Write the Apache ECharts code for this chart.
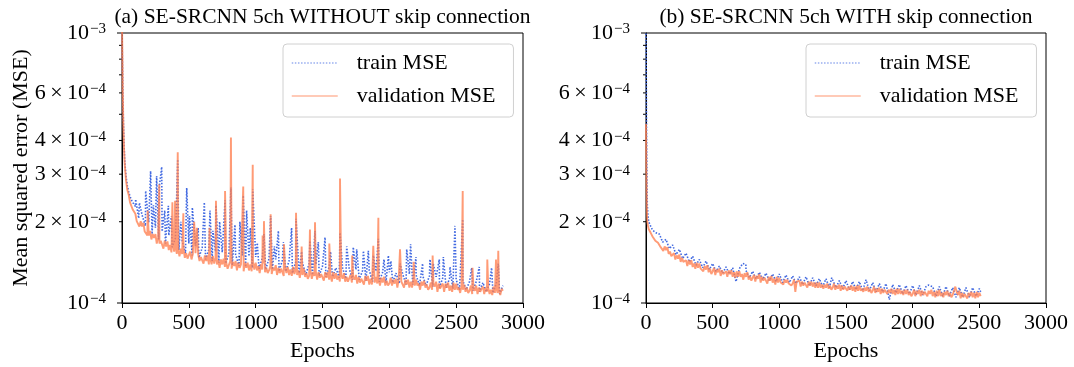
<!DOCTYPE html>
<html>
<head>
<meta charset="utf-8">
<script src="https://cdn.jsdelivr.net/npm/echarts@6/dist/echarts.min.js"></script>
<style>
html,body{margin:0;padding:0;background:#fff;}
#chart{width:1074px;height:367px;}
</style>
</head>
<body>
<div id="chart"></div>
<script>
// ---------- DATA (MSE values in units of 1e-4) ----------
const titles = ['(a) SE-SRCNN 5ch WITHOUT skip connection', '(b) SE-SRCNN 5ch WITH skip connection'];
const seriesNames = ['train MSE', 'validation MSE'];
const xTicks = [0, 500, 1000, 1500, 2000, 2500, 3000];
const yTickMinor = [2, 3, 4, 5, 6, 7, 8, 9];
const yLabelled = [1, 2, 3, 4, 6, 10];

function range(a, b, s) { const r = []; for (let e = a; e <= b; e += s) r.push(e); return r; }

// ===== (a) WITHOUT skip connection =====
const trainEpochsA = [0,3,6,10,15,20,25,30,40,50,60,75].concat(range(100, 2850, 25));
const trainA = [10.8,8.0,6.2,4.8,3.9,3.4,3.15,2.95,2.72,2.58,2.48,2.38,
2.28,2.06,2.12,1.93,1.99,1.80,1.90,1.72,1.84,1.66,1.78,1.61,1.74,1.57,1.70,1.53,
1.66,1.50,1.63,1.47,1.60,1.45,1.58,1.43,1.55,1.41,1.54,1.40,1.52,1.38,1.51,1.37,1.50,1.36,1.49,1.35,
1.48,1.34,1.47,1.33,1.46,1.33,1.45,1.31,1.44,1.31,1.43,1.29,1.42,1.29,1.41,1.27,1.40,1.27,1.39,1.26,
1.37,1.25,1.36,1.25,1.35,1.24,1.35,1.23,1.34,1.22,1.33,1.22,1.32,1.21,1.32,1.20,1.31,1.20,1.30,1.19,
1.30,1.19,1.29,1.18,1.28,1.17,1.28,1.17,1.27,1.16,1.26,1.16,1.26,1.15,1.25,1.14,1.24,1.14,1.23,1.13,
1.22,1.12,1.21,1.12,1.20,1.11,1.20,1.10,1.19,1.10,1.18,1.09,1.18,1.08,1.16];
const valEpochsA = [0,3,6,10,15,20,25,30,40,50,60,70,80,90].concat(range(100, 2850, 10));
const valA = [10.8,8.2,6.0,4.6,3.75,3.3,3.05,2.85,2.62,2.52,2.36,2.38,2.22,2.24,
2.14,2.01,2.04,1.92,2.01,1.92,1.98,1.84,1.87,1.78,
1.78,1.85,1.72,1.80,1.74,1.80,1.66,1.75,1.66,1.70,
1.71,1.59,1.70,1.62,1.69,1.57,1.64,1.54,1.66,1.55,
1.62,1.52,1.58,1.49,1.59,1.52,1.59,1.47,1.53,1.46,
1.48,1.55,1.45,1.52,1.48,1.53,1.42,1.51,1.43,1.48,
1.50,1.40,1.50,1.43,1.50,1.39,1.47,1.39,1.49,1.40,
1.47,1.39,1.44,1.35,1.45,1.39,1.46,1.36,1.41,1.34,
1.36,1.43,1.34,1.42,1.37,1.43,1.32,1.41,1.35,1.39,
1.40,1.31,1.41,1.35,1.41,1.32,1.39,1.31,1.42,1.33,
1.41,1.32,1.37,1.29,1.39,1.33,1.40,1.30,1.35,1.29,
1.32,1.37,1.28,1.35,1.32,1.38,1.27,1.35,1.29,1.34,
1.35,1.26,1.36,1.29,1.36,1.27,1.33,1.26,1.36,1.28,
1.34,1.27,1.32,1.24,1.33,1.27,1.34,1.25,1.29,1.23,
1.26,1.32,1.23,1.30,1.26,1.31,1.22,1.30,1.24,1.28,
1.29,1.21,1.30,1.24,1.30,1.22,1.27,1.20,1.30,1.23,
1.29,1.22,1.26,1.20,1.27,1.23,1.29,1.20,1.25,1.20,
1.22,1.27,1.19,1.25,1.22,1.27,1.18,1.25,1.19,1.23,
1.25,1.17,1.26,1.21,1.26,1.17,1.23,1.17,1.26,1.19,
1.25,1.18,1.22,1.16,1.24,1.19,1.25,1.16,1.21,1.16,
1.18,1.24,1.16,1.22,1.18,1.23,1.14,1.22,1.16,1.20,
1.22,1.14,1.22,1.17,1.22,1.14,1.20,1.14,1.23,1.16,
1.22,1.16,1.18,1.12,1.20,1.16,1.21,1.14,1.17,1.12,
1.14,1.19,1.12,1.18,1.15,1.20,1.10,1.18,1.13,1.16,
1.18,1.10,1.18,1.14,1.19,1.11,1.16,1.10,1.19,1.12,
1.18,1.12,1.14,1.09,1.16,1.12,1.17,1.10,1.14,1.09,
1.11,1.16,1.08,1.13,1.11,1.16,1.08,1.14,1.10,1.13,
1.15,1.08,1.14,1.10,1.14,1.08,1.12,1.07,1.15,1.09,
1.14,1.09,1.12,1.07,1.13,1.11];
const trainSpikesA = [[102,2.42],[130,2.35],[177,2.6],[214,3.08],[235,2.3],[259,2.95],[279,2.7],[297,3.19],
[320,2.2],[347,2.29],[370,2.1],[417,3.40],[440,2.0],[484,2.67],[505,2.1],[526,2.26],[570,1.9],[616,2.36],
[658,2.2],[680,1.85],[703,2.3],[730,2.0],[771,2.4],[815,2.68],[845,1.95],[882,2.0],[907,2.5],[932,2.2],
[960,1.9],[978,2.64],[1012,1.67],[1062,1.8],[1112,2.1],[1140,1.62],[1170,1.85],[1207,1.68],[1269,1.90],
[1302,2.05],[1344,1.55],[1406,1.7],[1444,1.85],[1469,1.68],[1519,1.75],[1560,1.55],[1631,1.82],[1681,1.62],
[1730,1.61],[1756,1.58],[1806,1.56],[1843,1.56],[1880,1.5],[1918,1.73],[1960,1.45],[1993,1.5],[2012,1.43],
[2080,1.4],[2130,1.58],[2159,1.65],[2199,1.48],[2249,1.4],[2304,1.45],[2328,1.4],[2374,1.45],[2404,1.48],
[2454,1.36],[2491,1.93],[2549,2.04],[2616,1.35],[2673,1.36],[2765,1.35],[2815,1.4]];
const valSpikesA = [[192,2.2],[279,2.75],[377,2.36],[397,2.39],[417,3.62],[459,2.15],[540,2.0],[560,1.9],
[655,1.9],[703,2.39],[771,2.6],[815,4.1],[907,2.7],[978,3.25],[1052,1.78],[1062,2.01],[1112,2.13],[1212,1.65],
[1302,2.16],[1344,1.62],[1406,1.87],[1444,1.99],[1551,1.66],[1631,2.89],[1722,1.5],[1880,1.63],[1918,2.07],
[2080,1.58],[2182,1.42],[2324,1.5],[2549,2.6],[2622,1.35],[2733,1.45],[2798,1.45],[2815,1.56]];

// ===== (b) WITH skip connection =====
const trainEpochsB = [0,2,4,6,8,10,15,20,30,40,50,60,75].concat(range(100, 2500, 25)).concat([2510]);
const trainB = [10.5,7.0,4.5,3.3,2.6,2.3,2.1,2.0,1.95,1.90,1.86,1.84,1.82,
1.80,1.68,1.72,1.59,1.64,1.51,1.58,1.46,1.53,1.42,1.49,1.38,1.45,1.35,1.43,1.33,
1.40,1.31,1.37,1.29,1.36,1.28,1.35,1.20,1.34,1.40,1.32,1.24,1.31,1.23,1.30,1.22,1.29,1.21,1.28,1.20,
1.28,1.19,1.27,1.19,1.26,1.18,1.25,1.17,1.25,1.16,1.24,1.16,1.23,1.15,1.23,1.14,1.25,1.14,1.21,1.13,
1.21,1.12,1.20,1.12,1.20,1.11,1.22,1.11,1.19,1.10,1.18,1.10,1.18,1.03,1.17,1.09,1.17,1.08,1.16,1.08,
1.16,1.07,1.16,1.07,1.15,1.17,1.15,1.06,1.15,1.06,1.15,1.06,1.14,1.05,1.14,1.05,1.14,1.05,1.14,1.06,
1.13,1.10];
const valEpochsB = [0,2,4,6,8,10,15,20,30,40,50,60,70,80,90].concat(range(100, 2500, 10)).concat([2510]);
const valB = [4.6,3.4,2.7,2.3,2.1,2.0,1.93,1.88,1.84,1.80,1.76,1.74,1.70,1.72,1.67,
1.68,1.61,1.62,1.56,1.62,1.57,1.61,1.52,1.55,1.49,
1.50,1.53,1.45,1.50,1.46,1.51,1.42,1.47,1.42,1.44,
1.44,1.37,1.44,1.39,1.44,1.36,1.40,1.34,1.41,1.35,
1.40,1.34,1.36,1.31,1.37,1.33,1.38,1.30,1.34,1.28,
1.31,1.35,1.27,1.33,1.30,1.34,1.26,1.32,1.28,1.30,
1.31,1.25,1.32,1.28,1.32,1.25,1.30,1.24,1.31,1.25,
1.31,1.25,1.28,1.22,1.29,1.25,1.30,1.22,1.26,1.21,
1.24,1.27,1.20,1.26,1.23,1.28,1.19,1.25,1.21,1.24,
1.25,1.18,1.25,1.21,1.26,1.19,1.23,1.17,1.25,1.19,
1.24,1.19,1.21,1.17,1.22,1.19,1.22,1.18,1.20,1.16,
1.18,1.22,1.10,1.20,1.18,1.21,1.15,1.20,1.16,1.19,
1.20,1.14,1.20,1.16,1.20,1.15,1.19,1.14,1.19,1.14,
1.19,1.14,1.17,1.13,1.17,1.14,1.18,1.13,1.16,1.12,
1.14,1.18,1.12,1.16,1.13,1.17,1.11,1.16,1.12,1.15,
1.16,1.11,1.15,1.12,1.16,1.11,1.15,1.10,1.16,1.11,
1.16,1.11,1.13,1.10,1.14,1.11,1.15,1.10,1.13,1.09,
1.11,1.15,1.09,1.13,1.10,1.14,1.08,1.13,1.09,1.12,
1.13,1.08,1.12,1.09,1.13,1.08,1.12,1.07,1.13,1.08,
1.13,1.08,1.11,1.07,1.12,1.08,1.12,1.07,1.10,1.06,
1.08,1.12,1.06,1.11,1.08,1.12,1.06,1.11,1.07,1.10,
1.11,1.06,1.11,1.08,1.12,1.06,1.10,1.05,1.11,1.06,
1.12,1.06,1.09,1.05,1.10,1.07,1.11,1.06,1.09,1.05,
1.07,1.11,1.15,1.10,1.07,1.11,1.04,1.09,1.05,1.08,
1.09,1.04,1.09,1.06,1.10,1.05,1.09,1.04,1.10,1.05,
1.09,1.06];
const trainSpikesB = [[749,1.39],[1393,1.24],[2118,1.165]];
const valSpikesB = [];

// ---------- BUILD ----------
const UNIT = 1e-4;
function build(ep, vals, spikes) {
  const m = new Map();
  ep.forEach((e, i) => { if (vals[i] !== undefined) m.set(e, vals[i]); });
  (spikes || []).forEach(([e, v]) => m.set(e, v));
  return [...m.entries()].sort((a, b) => a[0] - b[0]).map(([e, v]) => [e, v * UNIT]);
}
const FONT = "'Liberation Serif','DejaVu Serif',serif";
const BLUE = '#4169E1', CORAL = '#FF7F50';

const gridDefs = [
  {left: 122, top: 33, width: 401, height: 271},
  {left: 646, top: 33, width: 400, height: 271}
];
const data = [
  [build(trainEpochsA, trainA, trainSpikesA), build(valEpochsA, valA, valSpikesA)],
  [build(trainEpochsB, trainB, trainSpikesB), build(valEpochsB, valB, valSpikesB)]
];

const option = {
  animation: false,
  backgroundColor: '#fff',
  grid: gridDefs.map(g => Object.assign({show: true, borderColor: '#000', borderWidth: 1, backgroundColor: 'transparent'}, g)),
  xAxis: gridDefs.map((g, i) => ({
    type: 'value', gridIndex: i, min: xTicks[0], max: xTicks[xTicks.length - 1], interval: 500,
    name: 'Epochs', nameLocation: 'middle', nameGap: 37,
    nameTextStyle: {fontSize: 22, fontFamily: FONT, color: '#000'},
    axisLine: {lineStyle: {color: '#000', width: 1}},
    axisTick: {show: true, length: 5, lineStyle: {color: '#000', width: 1}},
    axisLabel: {fontSize: 22, fontFamily: FONT, color: '#000', margin: 9, showMaxLabel: true, showMinLabel: true,
      formatter: v => String(v)},
    splitLine: {show: false}
  })),
  yAxis: gridDefs.map((g, i) => ({
    type: 'log', logBase: 10, gridIndex: i, min: 1e-4, max: 1e-3,
    axisLine: {show: true, lineStyle: {color: '#000', width: 1}},
    axisTick: {show: false}, axisLabel: {show: false}, splitLine: {show: false}, minorTick: {show: false}
  })),
  legend: [283, 806].map(l => ({
    left: l, top: 44, orient: 'vertical',
    data: seriesNames,
    itemWidth: 46, itemHeight: 14, itemGap: 11,
    padding: [8, 18, 10, 8],
    itemStyle: {opacity: 0},
    lineStyle: {opacity: 0.55, width: 1.5},
    backgroundColor: 'rgba(255,255,255,0.8)', borderColor: '#d0d0d0', borderWidth: 1, borderRadius: 4,
    textStyle: {fontSize: 22, fontFamily: FONT, color: '#000', padding: [0, 0, 0, 14], lineHeight: 22},
    selectedMode: false
  })),
  series: []
};
[0, 1].forEach(g => {
  option.series.push({
    name: seriesNames[0], type: 'line', xAxisIndex: g, yAxisIndex: g, data: data[g][0],
    symbol: 'none', showSymbol: false, z: 2,
    lineStyle: {color: BLUE, width: 1.6, type: [1.5, 1.6]}, itemStyle: {color: BLUE}
  });
  option.series.push({
    name: seriesNames[1], type: 'line', xAxisIndex: g, yAxisIndex: g, data: data[g][1],
    symbol: 'none', showSymbol: false, z: 3,
    lineStyle: {color: CORAL, width: 1.9, opacity: 0.78}, itemStyle: {color: CORAL}
  });
});

const chart = echarts.init(document.getElementById('chart'), null, {renderer: 'canvas'});
chart.setOption(option);

// log-axis ticks & matplotlib-style labels placed through the axis scale
const graphics = [];
[0, 1].forEach(g => {
  const left = gridDefs[g].left;
  [1].concat(yTickMinor).concat([10]).forEach(v => {
    const y = chart.convertToPixel({yAxisIndex: g}, v * UNIT);
    const major = (v === 1 || v === 10);
    const len = major ? 5 : 3;
    graphics.push({type: 'line', silent: true, shape: {x1: left - len, y1: y, x2: left, y2: y},
      style: {stroke: '#000', lineWidth: 1}});
  });
  yLabelled.forEach(v => {
    const y = chart.convertToPixel({yAxisIndex: g}, v * UNIT);
    let txt;
    if (v === 1) txt = '{b|10}{s|\u22124}';
    else if (v === 10) txt = '{b|10}{s|\u22123}';
    else txt = '{b|' + v + '\u2009\u00d7\u200910}{s|\u22124}';
    graphics.push({type: 'text', silent: true, x: left - 16, y: y,
      style: {text: txt, align: 'right', verticalAlign: 'middle',
        rich: {
          b: {fontSize: 22, fontFamily: FONT, fill: '#000', lineHeight: 22, verticalAlign: 'bottom'},
          s: {fontSize: 15, fontFamily: FONT, fill: '#000', lineHeight: 15, padding: [0, 0, 15, 1], verticalAlign: 'top'}
        }}});
  });
  graphics.push({type: 'text', silent: true, x: gridDefs[g].left + gridDefs[g].width / 2, y: 17,
    style: {text: titles[g], fontSize: 21.5, fontFamily: FONT, fill: '#000', align: 'center', verticalAlign: 'middle'}});
});
graphics.push({type: 'text', silent: true, x: 21, y: 168, rotation: Math.PI / 2,
  style: {text: 'Mean squared error (MSE)', fontSize: 22, fontFamily: FONT, fill: '#000', align: 'center', verticalAlign: 'middle'}});
chart.setOption({graphic: graphics});
</script>
</body>
</html>
